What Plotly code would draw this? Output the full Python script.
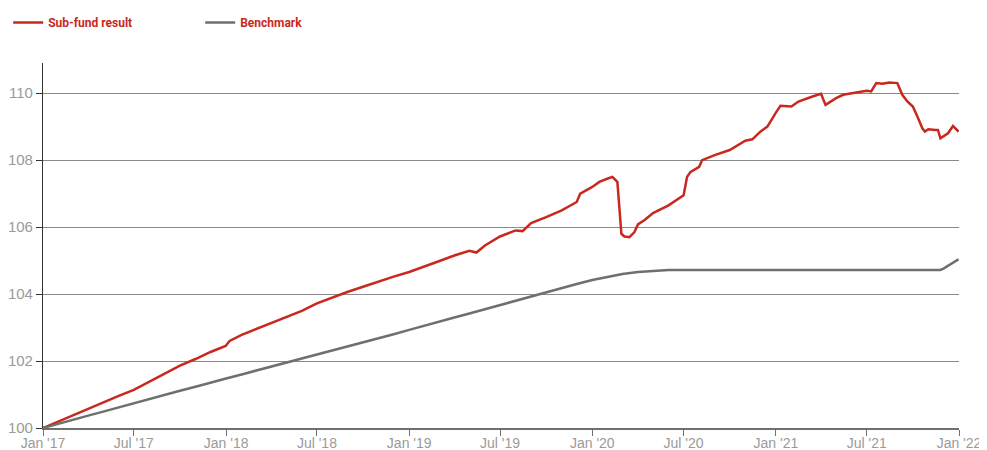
import plotly.graph_objects as go

# ---- data ----
fund_dates = [
    "2017-01-01", "2017-02-01", "2017-03-01", "2017-04-01", "2017-05-01", "2017-06-01",
    "2017-07-01", "2017-08-01", "2017-09-01", "2017-10-01", "2017-11-01", "2017-12-01",
    "2017-12-31", "2018-01-08", "2018-02-01", "2018-03-01", "2018-04-01", "2018-05-01",
    "2018-06-01", "2018-07-01", "2018-08-01", "2018-09-01", "2018-10-01", "2018-11-01",
    "2018-12-01", "2019-01-01", "2019-02-01", "2019-03-01", "2019-04-01", "2019-05-01",
    "2019-05-15", "2019-06-01", "2019-07-01", "2019-08-01", "2019-08-15", "2019-09-01",
    "2019-10-01", "2019-11-01", "2019-12-01", "2019-12-08", "2020-01-01", "2020-01-15",
    "2020-02-01", "2020-02-10", "2020-02-20", "2020-02-28", "2020-03-05", "2020-03-15",
    "2020-03-25", "2020-04-01", "2020-04-15", "2020-05-01", "2020-06-01", "2020-06-20",
    "2020-07-01", "2020-07-08", "2020-07-15", "2020-08-01", "2020-08-07", "2020-09-01",
    "2020-10-01", "2020-11-01", "2020-11-15", "2020-12-01", "2020-12-15", "2021-01-01",
    "2021-01-10", "2021-02-01", "2021-02-15", "2021-03-15", "2021-04-01", "2021-04-10",
    "2021-04-20", "2021-05-01", "2021-05-15", "2021-06-01", "2021-06-15", "2021-07-01",
    "2021-07-10", "2021-07-20", "2021-08-01", "2021-08-15", "2021-08-31", "2021-09-10",
    "2021-09-20", "2021-10-01", "2021-10-10", "2021-10-20", "2021-10-25", "2021-11-01",
    "2021-11-15", "2021-11-20", "2021-11-25", "2021-12-01", "2021-12-10", "2021-12-20",
    "2021-12-31",
]
fund_values = [
    100.00, 100.20, 100.38, 100.58, 100.77, 100.96,
    101.14, 101.38, 101.62, 101.86, 102.06, 102.27,
    102.45, 102.60, 102.78, 102.95, 103.15, 103.33,
    103.50, 103.72, 103.90, 104.07, 104.22, 104.38,
    104.52, 104.66, 104.82, 104.98, 105.15, 105.29,
    105.24, 105.45, 105.72, 105.90, 105.88, 106.12,
    106.30, 106.50, 106.75, 107.00, 107.20, 107.35,
    107.45, 107.50, 107.35, 105.80, 105.72, 105.70,
    105.85, 106.08, 106.22, 106.42, 106.65, 106.85,
    106.95, 107.50, 107.65, 107.80, 108.00, 108.15,
    108.30, 108.58, 108.62, 108.85, 109.00, 109.42,
    109.62, 109.60, 109.75, 109.90, 109.98, 109.65,
    109.75, 109.85, 109.95, 110.00, 110.02, 110.07,
    110.05, 110.30, 110.28, 110.32, 110.30, 109.95,
    109.75, 109.60, 109.30, 108.95, 108.85, 108.92,
    108.90, 108.90, 108.65, 108.72, 108.80, 109.02,
    108.85,
]

bench_dates = [
    "2017-01-01", "2017-02-01", "2017-03-01", "2017-04-01", "2017-05-01", "2017-06-01",
    "2017-07-01", "2017-08-01", "2017-09-01", "2017-10-01", "2017-11-01", "2017-12-01",
    "2018-01-01", "2018-02-01", "2018-03-01", "2018-04-01", "2018-05-01", "2018-06-01",
    "2018-07-01", "2018-08-01", "2018-09-01", "2018-10-01", "2018-11-01", "2018-12-01",
    "2019-01-01", "2019-02-01", "2019-03-01", "2019-04-01", "2019-05-01", "2019-06-01",
    "2019-07-01", "2019-08-01", "2019-09-01", "2019-10-01", "2019-11-01", "2019-12-01",
    "2020-01-01", "2020-02-01", "2020-03-01", "2020-04-01", "2020-05-01", "2020-06-01",
    "2020-09-01", "2021-01-01", "2021-05-01", "2021-09-01", "2021-11-25", "2021-12-01",
    "2021-12-15", "2021-12-31",
]
bench_values = [
    100.00, 100.12, 100.25, 100.37, 100.49, 100.62,
    100.74, 100.86, 100.99, 101.11, 101.23, 101.36,
    101.48, 101.60, 101.71, 101.83, 101.95, 102.06,
    102.18, 102.30, 102.43, 102.55, 102.68, 102.80,
    102.93, 103.05, 103.18, 103.30, 103.42, 103.55,
    103.67, 103.80, 103.92, 104.05, 104.17, 104.30,
    104.42, 104.52, 104.60, 104.66, 104.70, 104.72,
    104.72, 104.72, 104.72, 104.72, 104.72, 104.76,
    104.88, 105.04,
]

tick_dates = [
    "2017-01-01", "2017-07-01", "2018-01-01", "2018-07-01", "2019-01-01", "2019-07-01",
    "2020-01-01", "2020-07-01", "2021-01-01", "2021-07-01", "2022-01-01",
]
tick_labels = [
    "Jan '17", "Jul '17", "Jan '18", "Jul '18", "Jan '19", "Jul '19",
    "Jan '20", "Jul '20", "Jan '21", "Jul '21", "Jan '22",
]
y_ticks = [100, 102, 104, 106, 108, 110]

RED = "#c8281e"
GRAY = "#6f6f6f"
Y_TICK_FONT = dict(family="Liberation Sans, Arial, sans-serif", size=15, color="#9a9a9a")
X_TICK_FONT = dict(family="Liberation Sans, Arial, sans-serif", size=14, color="#9a9a9a")
LEG_FONT = "Liberation Sans Narrow, Roboto, sans-serif"

fig = go.Figure()
fig.add_trace(go.Scatter(x=fund_dates, y=fund_values, mode="lines", name="Sub-fund result",
                         line=dict(color=RED, width=2.5)))
fig.add_trace(go.Scatter(x=bench_dates, y=bench_values, mode="lines", name="Benchmark",
                         line=dict(color=GRAY, width=2.5)))

# the page adds an 8px body margin, so the figure is offset by 8px
fig.update_layout(
    width=987, height=450,
    margin=dict(l=35, r=36, t=55, b=30, autoexpand=False),
    plot_bgcolor="white", paper_bgcolor="white",
    font=dict(family="Liberation Sans, sans-serif", size=13, color="#9a9a9a"),
    showlegend=True,
    legend=dict(orientation="h", x=-0.038, xanchor="left", xref="paper",
                y=1, yanchor="top", yref="container",
                font=dict(family=LEG_FONT, size=12, color=RED, weight="bold"),
                entrywidth=147, entrywidthmode="pixels",
                itemwidth=30, bgcolor="rgba(0,0,0,0)"),
    hovermode=False,
    xaxis=dict(range=["2017-01-01", "2022-01-01"], tickvals=tick_dates, ticktext=tick_labels,
               showgrid=False, zeroline=False, showline=True, linecolor="#707070", linewidth=2,
               ticks="outside", ticklen=6, tickcolor="#707070", tickwidth=1,
               ticklabelstandoff=-5,
               automargin=False, tickfont=X_TICK_FONT),
    yaxis=dict(range=[100, 110.9], tickvals=y_ticks, showgrid=True, gridcolor="#8a8a8a",
               gridwidth=1, zeroline=False, showline=True, linecolor="#333333", linewidth=1.2,
               ticks="outside", ticklen=6, tickcolor="#333333", tickwidth=1,
               automargin=False, tickfont=Y_TICK_FONT),
)

fig.write_html("out.html")
